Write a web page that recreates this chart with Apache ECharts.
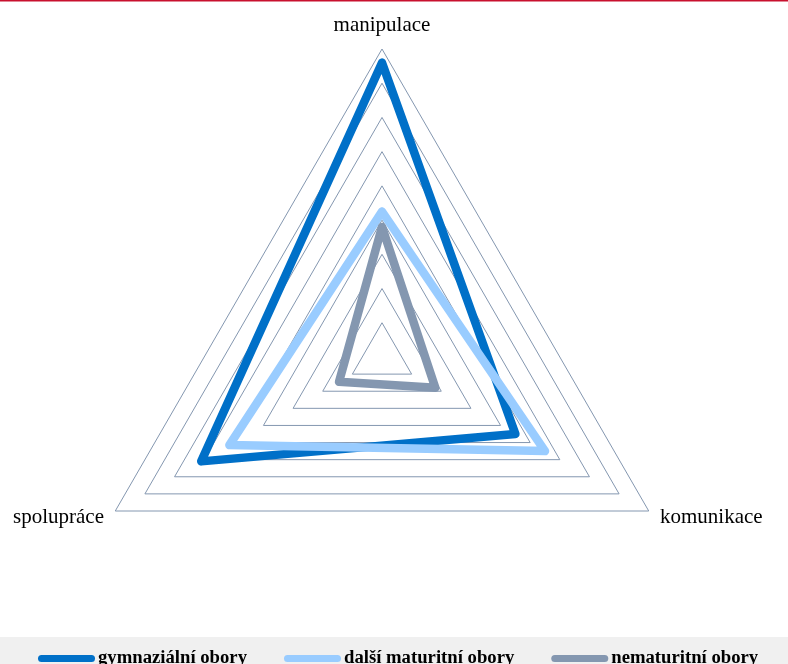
<!DOCTYPE html>
<html>
<head>
<meta charset="utf-8">
<script src="https://cdn.jsdelivr.net/npm/echarts@6/dist/echarts.min.js"></script>
<style>
  html, body { margin: 0; padding: 0; background: #ffffff; }
  #chart { width: 788px; height: 664px; }
</style>
</head>
<body>
<div id="chart"></div>
<script>
// Radar dimensions (counter-clockwise from the top)
const indicators = ['manipulace', 'spolupráce', 'komunikace'];
const scaleMax = 9;

// Series values, one per indicator
const seriesNames = ['gymnaziální obory', 'další maturitní obory', 'nematuritní obory'];
const gymnazialni = [8.6, 6.1, 4.5];
const dalsiMaturitni = [4.25, 5.15, 5.5];
const nematuritni = [3.8, 1.45, 1.8];

const colors = ['#0070C8', '#99CCFF', '#8497B0'];
const values = [gymnazialni, dalsiMaturitni, nematuritni];

const chart = echarts.init(document.getElementById('chart'), null, { renderer: 'canvas' });

const capsule = 'path://M3.5,0 H53.5 A3.5,3.5 0 0 1 53.5,7 H3.5 A3.5,3.5 0 0 1 3.5,0 Z';

chart.setOption({
  animation: false,
  backgroundColor: '#ffffff',
  graphic: [
    { type: 'rect', shape: { x: 0, y: 0, width: 788, height: 1.5 }, style: { fill: '#C8102E' }, silent: true },
    { type: 'rect', shape: { x: 0, y: 637, width: 788, height: 27 }, style: { fill: '#F0F0F0' }, silent: true, z: -1 }
  ],
  legend: {
    data: seriesNames.map(n => ({ name: n, icon: capsule })),
    left: 33,
    top: 644,
    itemWidth: 57,
    itemHeight: 7,
    itemGap: 37,
    textStyle: {
      fontFamily: 'Liberation Serif',
      fontWeight: 'bold',
      fontSize: 18.7,
      color: '#000000',
      padding: [0, 0, 0, -2]
    }
  },
  radar: {
    center: [382, 357],
    radius: 308,
    startAngle: 90,
    shape: 'polygon',
    splitNumber: 9,
    nameGap: 13,
    indicator: indicators.map(name => ({ name: name, min: 0, max: scaleMax })),
    axisName: {
      color: '#000000',
      fontFamily: 'Liberation Serif',
      fontSize: 21
    },
    axisLine: { show: false },
    axisTick: { show: false },
    axisLabel: { show: false },
    splitArea: { show: false },
    splitLine: { lineStyle: { color: '#8497B0', width: 1 } }
  },
  series: seriesNames.map((name, i) => ({
    name: name,
    type: 'radar',
    symbol: 'none',
    color: colors[i],
    lineStyle: { width: 8.5, color: colors[i], cap: 'round', join: 'round' },
    data: [{ name: name, value: values[i] }]
  }))
});
</script>
</body>
</html>
